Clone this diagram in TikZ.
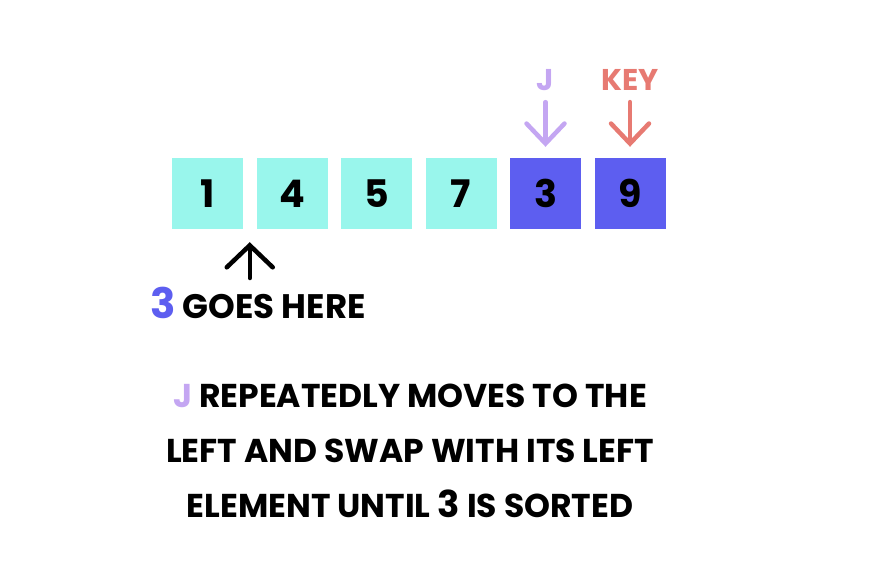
\documentclass[tikz,border=0pt]{standalone}
\usepackage{fontspec}
\setmainfont{Poppins}
\usetikzlibrary{arrows.meta,calc}
\definecolor{cellcyan}{HTML}{99F6EC}
\definecolor{cellblue}{HTML}{5D5EF0}
\definecolor{jpurple}{HTML}{C4A6F2}
\definecolor{keyred}{HTML}{E77A72}
\begin{document}
\begin{tikzpicture}[x=1pt, y=-1pt,
  cell/.style={minimum width=71pt, minimum height=71pt, inner sep=0pt, font=\fontsize{38}{38}\selectfont\bfseries},
  arr/.style={line width=4.5pt, line cap=round, -{Straight Barb[length=20pt,width=38pt,line cap=round]}},
  hand/.style={font=\fontsize{33}{55}\selectfont\bfseries}]
  \useasboundingbox (0,0) rectangle (880,572);
  % the array
  \foreach \v [count=\i] in {1,4,5,7}
    \node[cell, fill=cellcyan] (b\i) at ({207.5+84.5*(\i-1)},193.5) {\v};
  \node[cell, fill=cellblue] (b5) at (545.5,193.5) {3};
  \node[cell, fill=cellblue] (b6) at (630,193.5) {9};
  % pointers
  \node[hand, text=jpurple, font=\fontsize{30}{30}\selectfont\bfseries] (jlab) at (b5 |- 0,80) {J};
  \node[hand, text=keyred, font=\fontsize{30}{30}\selectfont\bfseries] (keylab) at (b6 |- 0,80) {KEY};
  \draw[arr, jpurple, shorten <=8pt, shorten >=11pt] (jlab) -- (b5);
  \draw[arr, keyred, shorten <=8pt, shorten >=11pt] (keylab) -- (b6);
  % insert position
  \coordinate (gap) at ($(b1.south east)!0.5!(b2.south west)$);
  \coordinate (gapfoot) at (gap |- 0,278);
  \draw[arr, -{Straight Barb[length=22pt,width=46pt,line cap=round]}, shorten >=13pt] (gapfoot) -- (gap);
  \node[hand, anchor=base west, inner sep=0pt, font=\fontsize{34}{34}\selectfont\bfseries] (here) at (150,318)
    {\textcolor{cellblue}{\fontsize{42}{42}\selectfont 3} GOES HERE};
  % explanation
  \node[hand, align=center] (note) at (410,451)
    {\textcolor{jpurple}{J} REPEATEDLY MOVES TO THE\\
     LEFT AND SWAP WITH ITS LEFT\\
     ELEMENT UNTIL {\fontsize{37}{37}\selectfont 3} IS SORTED};
\end{tikzpicture}
\end{document}
